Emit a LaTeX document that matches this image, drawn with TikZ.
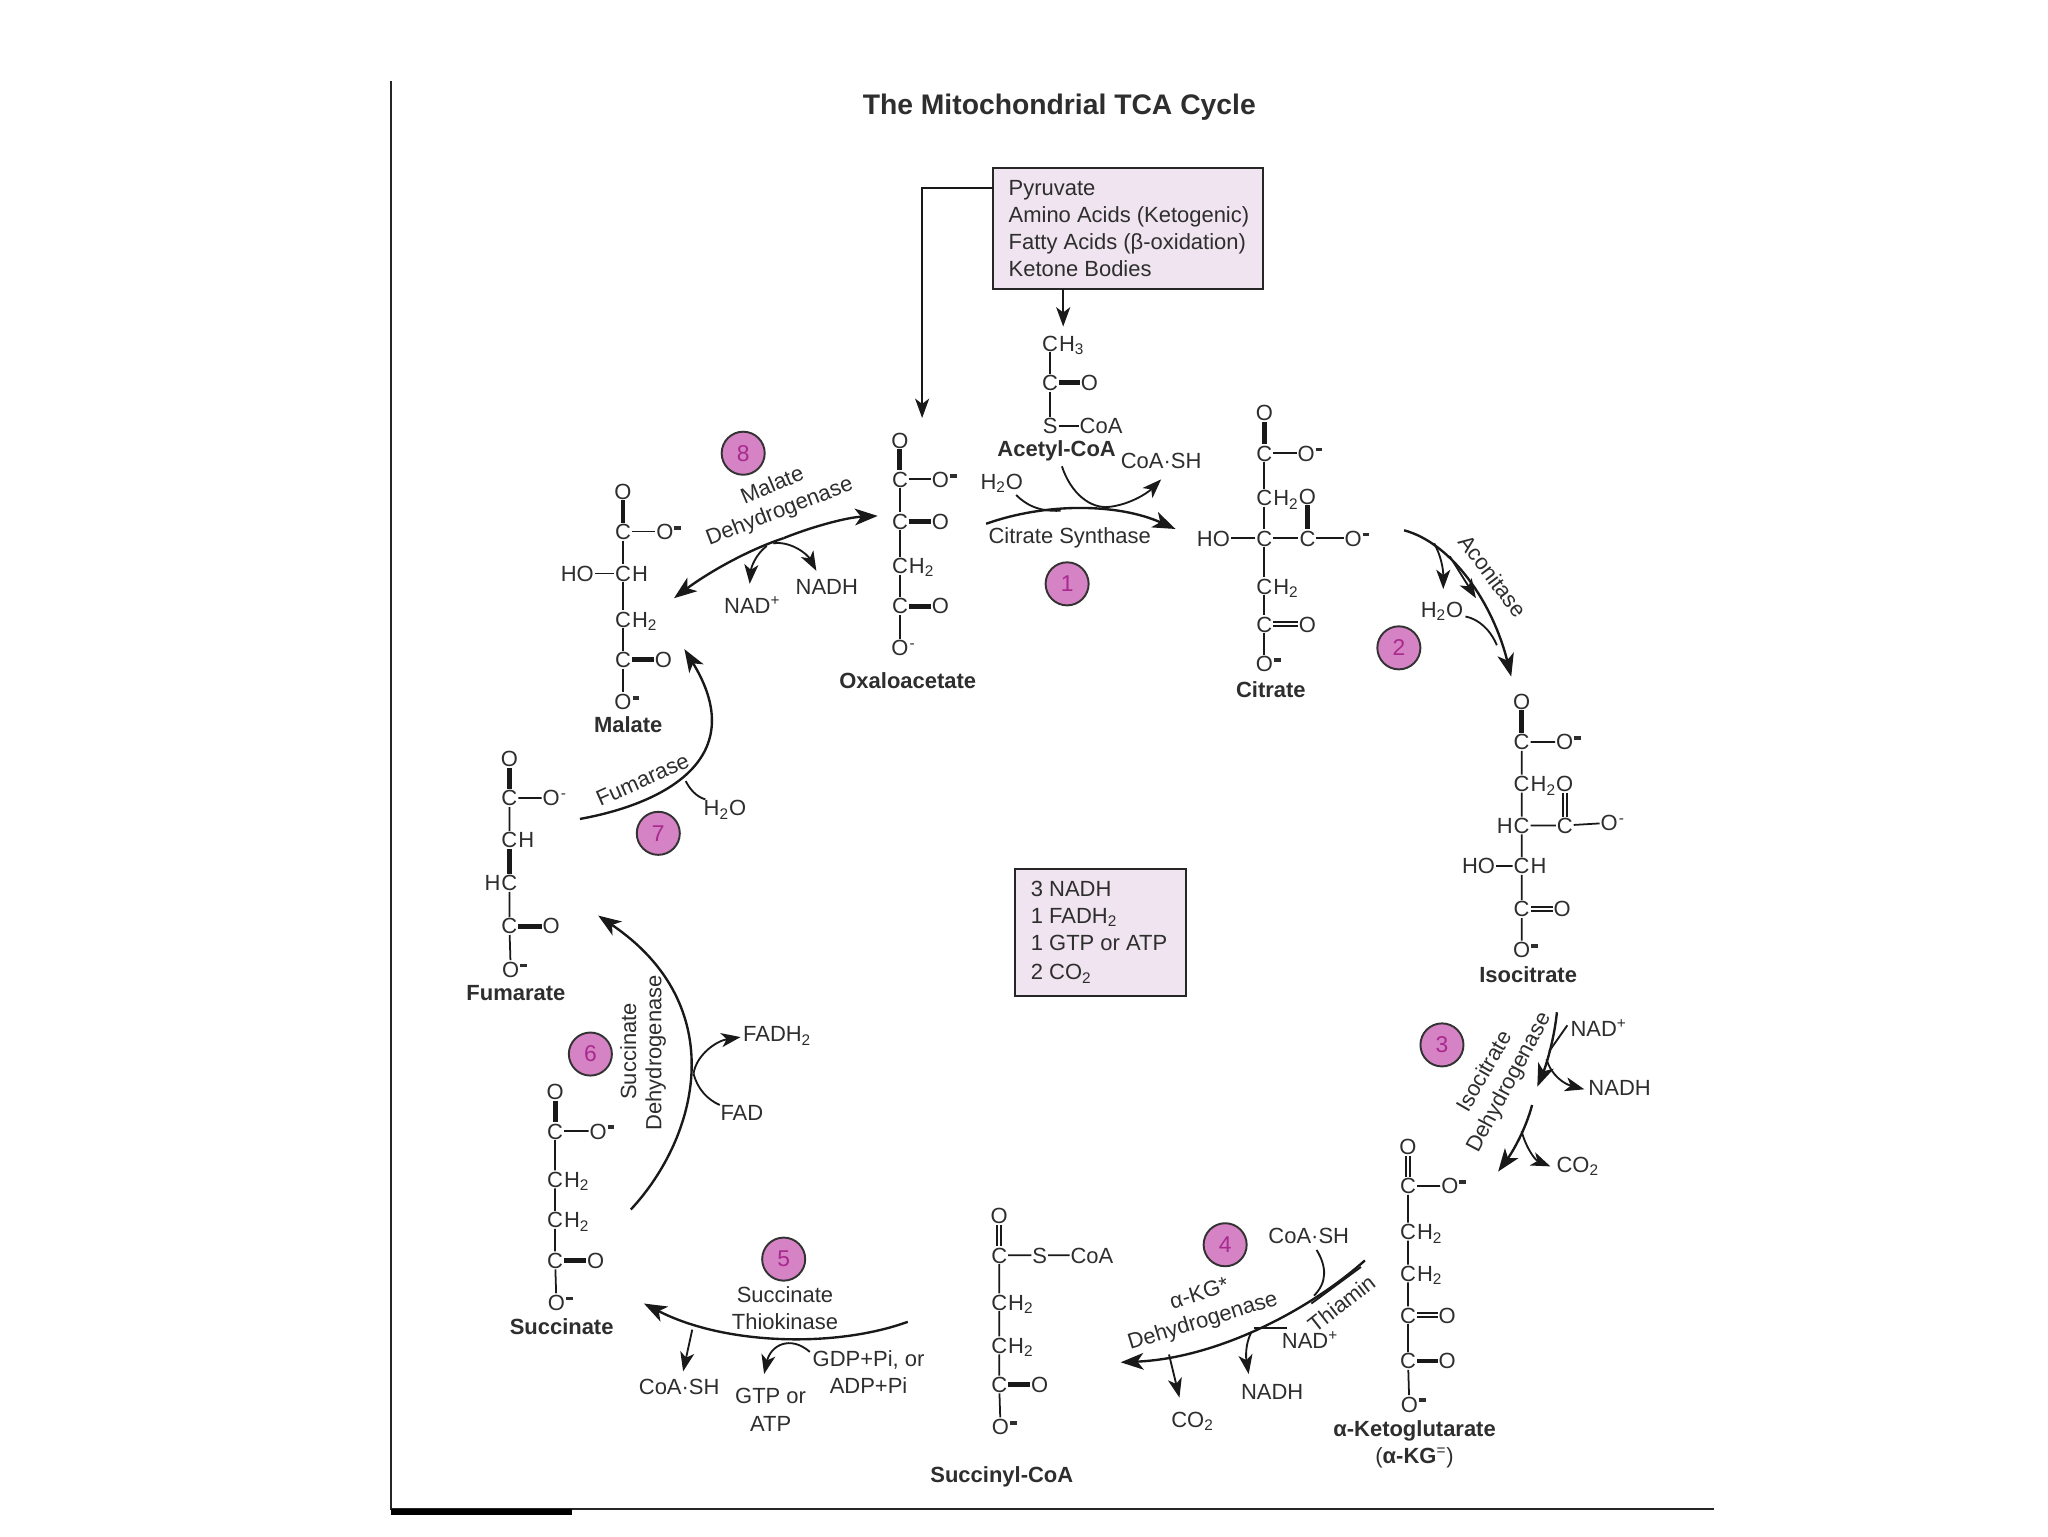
\documentclass[tikz,border=0pt]{standalone}
\usepackage{fontspec}
\setmainfont{Liberation Sans}
\usetikzlibrary{arrows.meta}
\definecolor{inkc}{HTML}{2E2E2E}
\definecolor{boxfill}{HTML}{EFE4EF}
\definecolor{discfill}{HTML}{D583C4}
\definecolor{numc}{HTML}{A82A8E}
\tikzset{
  atom/.style={inner sep=0pt,outer sep=0.6pt,text=inkc,font=\fontsize{12.5}{14}\selectfont,text height=9pt,text depth=0pt},
  atomx/.style={inner sep=0pt,outer sep=0pt,text=inkc,font=\fontsize{12.5}{14}\selectfont},
  bond/.style={draw=black!90,line width=1pt},
  dbond/.style={draw=black!90,line width=2.8pt},
  chemname/.style={inner sep=0pt,text=inkc,font=\fontsize{12.5}{14}\bfseries\selectfont},
  lab/.style={inner sep=0pt,text=inkc,font=\fontsize{12.5}{14}\selectfont},
  mainarc/.style={draw=black!90,line width=1.35pt},
  arcto/.style={mainarc,-{Stealth[length=13pt,width=9.5pt,inset=3.5pt]}},
  twig/.style={draw=black!90,line width=1.05pt},
  twigto/.style={twig,-{Stealth[length=11pt,width=8pt,inset=3pt]}},
  info/.style={draw=black!85,line width=1.1pt,fill=boxfill,inner sep=0pt},
  disc/.style={circle,draw=black!80,line width=1.1pt,fill=discfill,text=numc,inner sep=0pt,minimum size=24.5pt,font=\fontsize{13}{14}\selectfont}
}
\newcommand{\At}[4]{\node[atom] (#1) at (#2,#3) {#4};}
\newcommand{\AtR}[5]{\node[atom] (#1) at (#2,#3) {#4};\node[atomx,anchor=base west] (#1x) at (#1.base east) {#5};}
\newcommand{\AtL}[5]{\node[atom] (#1) at (#2,#3) {#4};\node[atomx,anchor=base east] (#1x) at (#1.base west) {#5};}
\newcommand{\Sb}[1]{\textsubscript{#1}}
\newcommand{\Neg}{\raisebox{5.5pt}{\rule{3.8pt}{2.2pt}}}
\begin{document}
\begin{tikzpicture}[x=0.026122cm,y=-0.026122cm]
\useasboundingbox (0,0) rectangle (1568,1176);
\fill[white] (0,0) rectangle (1568,1176);
% frame
\coordinate (f1) at (299,62); \coordinate (f2) at (299,1155); \coordinate (f3) at (1312,1155);
\coordinate (f4) at (438,1157.5);
\draw[draw=black!85,line width=1.1pt] (f1) -- (f2) -- (f3);
\draw[draw=black,line width=3.5pt] (f2 |- f4) -- (f4);
% title
\node[inner sep=0pt,text=inkc,font=\fontsize{16.1}{18}\bfseries\selectfont] (title) at (811,82) {The Mitochondrial TCA Cycle};
% source box
\node[info,minimum width=154pt,minimum height=68.5pt] (src) at (863.5,175) {};
\node[lab,anchor=base west] (s1) at (772,150) {Pyruvate};
\node[lab,anchor=base west] (s2) at (772,170.5) {Amino Acids (Ketogenic)};
\node[lab,anchor=base west] (s3) at (772,191) {Fatty Acids (β-oxidation)};
\node[lab,anchor=base west] (s4) at (772,212) {Ketone Bodies};
\coordinate (oatop) at (706,320);
\coordinate (srcl) at (760,144);
\coordinate (srcb) at (814,221);
\coordinate (acin) at (814,250);
\draw[twigto] (srcl) -| (oatop);
\draw[twigto] (srcb) -- (acin);
% summary box
\node[info,minimum width=97pt,minimum height=72.5pt] (sum) at (842.5,714) {};
\node[lab,anchor=base west] (m1) at (789,686) {3 NADH};
\node[lab,anchor=base west] (m2) at (789,707) {1 FADH\Sb{2}};
\node[lab,anchor=base west] (m3) at (789,728) {1 GTP or ATP};
\node[lab,anchor=base west] (m4) at (789,750) {2 CO\Sb{2}};
% Acetyl-CoA
\AtR{ac1}{804}{263}{C}{H\Sb{3}}
\At{ac2}{804}{293}{C} \At{ac3}{834}{293}{O}
\At{ac4}{804}{326}{S} \At{ac5}{843}{326}{CoA}
\draw[bond] (ac1)--(ac2) (ac2)--(ac4) (ac4)--(ac5);
\draw[dbond] (ac2)--(ac3);
\node[chemname] (acn) at (809,345.5) {Acetyl-CoA};
% Oxaloacetate
\At{oa1}{689}{337}{O} \At{oa2}{689}{367}{C} \AtR{oa3}{720}{367}{O}{\Neg}
\At{oa4}{689}{399}{C} \At{oa5}{720}{399}{O}
\AtR{oa6}{689}{433}{C}{H\Sb{2}}
\At{oa7}{689}{464}{C} \At{oa8}{720}{464}{O}
\AtR{oa9}{689}{496}{O}{\textsuperscript{-}}
\draw[dbond] (oa1)--(oa2) (oa4)--(oa5) (oa7)--(oa8);
\draw[bond] (oa2)--(oa3) (oa2)--(oa4) (oa4)--(oa6) (oa6)--(oa7) (oa7)--(oa9);
\node[chemname] (oan) at (695,521) {Oxaloacetate};
% Citrate
\At{ci1}{968}{316}{O} \At{ci2}{968}{347}{C} \AtR{ci3}{1000}{347}{O}{\Neg}
\AtR{ci4}{968}{381}{C}{H\Sb{2}} \At{ci5}{1001}{380}{O}
\At{ci6}{968}{412}{C} \At{ci7}{929}{412}{HO} \At{ci8}{1001}{412}{C} \AtR{ci9}{1036}{412}{O}{\Neg}
\AtR{ci10}{968}{449}{C}{H\Sb{2}}
\At{ci11}{968}{478}{C} \At{ci12}{1001}{478}{O}
\AtR{ci13}{968}{508}{O}{\Neg}
\draw[dbond] (ci1)--(ci2) (ci5)--(ci8);
\draw[bond] (ci2)--(ci3) (ci2)--(ci4) (ci4)--(ci6) (ci6)--(ci7) (ci6)--(ci8) (ci8)--(ci9) (ci6)--(ci10) (ci10)--(ci11) (ci11)--(ci13);
\draw[bond,double,double distance=1.3pt] (ci11)--(ci12);
\node[chemname] (cin) at (973,528) {Citrate};
% Isocitrate
\At{ic1}{1165}{537}{O} \At{ic2}{1165}{568}{C} \AtR{ic3}{1198}{568}{O}{\Neg}
\AtR{ic4}{1165}{600}{C}{H\Sb{2}} \At{ic5}{1198}{600}{O}
\AtL{ic6}{1165}{632}{C}{H} \At{ic7}{1198}{632}{C} \AtR{ic8}{1232}{630}{O}{\textsuperscript{-}}
\AtR{ic9}{1165}{663}{C}{H} \At{ic10}{1132}{663}{HO}
\At{ic11}{1165}{696}{C} \At{ic12}{1196}{696}{O}
\AtR{ic13}{1165}{727}{O}{\Neg}
\draw[dbond] (ic1)--(ic2);
\draw[bond] (ic2)--(ic3) (ic2)--(ic4) (ic4)--(ic6) (ic6)--(ic7) (ic7)--(ic8) (ic6)--(ic9) (ic9)--(ic10) (ic9)--(ic11) (ic11)--(ic13);
\draw[bond,double,double distance=1.3pt] (ic5)--(ic7);
\draw[bond,double,double distance=1.3pt] (ic11)--(ic12);
\node[chemname] (icn) at (1170,746) {Isocitrate};
% alpha-ketoglutarate
\At{kg1}{1078}{878}{O} \At{kg2}{1078}{908}{C} \AtR{kg3}{1110}{908}{O}{\Neg}
\AtR{kg4}{1078}{943}{C}{H\Sb{2}} \AtR{kg5}{1078}{975}{C}{H\Sb{2}}
\At{kg6}{1078}{1007}{C} \At{kg7}{1108}{1007}{O}
\At{kg8}{1078}{1042}{C} \At{kg9}{1108}{1042}{O}
\AtR{kg10}{1079}{1075}{O}{\Neg}
\draw[bond,double,double distance=1.3pt] (kg1)--(kg2);
\draw[bond,double,double distance=1.3pt] (kg6)--(kg7);
\draw[dbond] (kg8)--(kg9);
\draw[bond] (kg2)--(kg3) (kg2)--(kg4) (kg4)--(kg5) (kg5)--(kg6) (kg6)--(kg8) (kg8)--(kg10);
\node[chemname] (kgn) at (1083,1095.5) {α-Ketoglutarate};
\node[lab] (kgn2) at (1083,1116) {(\textbf{α-KG}\textsuperscript{=})};
% Succinyl-CoA
\At{sc1}{765}{931}{O} \At{sc2}{765}{961}{C} \At{sc3}{796}{961}{S} \At{sc4}{836}{961}{CoA}
\AtR{sc5}{765}{997}{C}{H\Sb{2}} \AtR{sc6}{765}{1030}{C}{H\Sb{2}}
\At{sc7}{765}{1060}{C} \At{sc8}{796}{1060}{O}
\AtR{sc9}{766}{1092}{O}{\Neg}
\draw[bond,double,double distance=1.3pt] (sc1)--(sc2);
\draw[dbond] (sc7)--(sc8);
\draw[bond] (sc2)--(sc3) (sc3)--(sc4) (sc2)--(sc5) (sc5)--(sc6) (sc6)--(sc7) (sc7)--(sc9);
\node[chemname] (scn) at (767,1131) {Succinyl-CoA};
% Succinate
\At{su1}{425}{836}{O} \At{su2}{425}{866}{C} \AtR{su3}{458}{866}{O}{\Neg}
\AtR{su4}{425}{903}{C}{H\Sb{2}} \AtR{su5}{425}{934}{C}{H\Sb{2}}
\At{su6}{425}{965}{C} \At{su7}{456}{965}{O}
\AtR{su8}{426}{997}{O}{\Neg}
\draw[dbond] (su1)--(su2) (su6)--(su7);
\draw[bond] (su2)--(su3) (su2)--(su4) (su4)--(su5) (su5)--(su6) (su6)--(su8);
\node[chemname] (sun) at (430,1015.5) {Succinate};
% Fumarate
\At{fu1}{390}{581}{O} \At{fu2}{390}{611}{C} \AtR{fu3}{422}{611}{O}{\textsuperscript{-}}
\AtR{fu4}{390}{643}{C}{H} \AtL{fu5}{390}{676}{C}{H}
\At{fu6}{390}{709}{C} \At{fu7}{422}{709}{O}
\AtR{fu8}{391}{742}{O}{\Neg}
\draw[dbond] (fu1)--(fu2) (fu4)--(fu5) (fu6)--(fu7);
\draw[bond] (fu2)--(fu3) (fu2)--(fu4) (fu5)--(fu6) (fu6)--(fu8);
\node[chemname] (fun) at (395,760) {Fumarate};
% Malate
\At{ma1}{477}{376}{O} \At{ma2}{477}{407}{C} \AtR{ma3}{509}{407}{O}{\Neg}
\AtR{ma4}{477}{439}{C}{H} \At{ma5}{442}{439}{HO}
\AtR{ma6}{477}{474}{C}{H\Sb{2}}
\At{ma7}{477}{505}{C} \At{ma8}{508}{505}{O}
\AtR{ma9}{477}{537}{O}{\Neg}
\draw[dbond] (ma1)--(ma2) (ma7)--(ma8);
\draw[bond] (ma2)--(ma3) (ma2)--(ma4) (ma4)--(ma5) (ma4)--(ma6) (ma6)--(ma7) (ma7)--(ma9);
\node[chemname] (man) at (481,555) {Malate};
% numbered discs
\node[disc] (d1) at (817,447) {1};
\node[disc] (d2) at (1071,496) {2};
\node[disc] (d3) at (1104,800) {3};
\node[disc] (d4) at (938,953) {4};
\node[disc] (d5) at (600,964) {5};
\node[disc] (d6) at (452,807) {6};
\node[disc] (d7) at (504,638) {7};
\node[disc] (d8) at (569,347) {8};
% step 1
\coordinate (a1s) at (755,401); \coordinate (a1e) at (900,405);
\draw[arcto] (a1s) .. controls (800,385) and (855,385) .. (a1e);
\node[lab] (e1) at (819,412) {Citrate Synthase};
\node[lab] (w1) at (767,370) {H\Sb{2}O};
\node[lab] (c1) at (889,353) {CoA·SH};
\coordinate (b1a) at (778,379); \coordinate (b1b) at (812,391);
\draw[twig] (b1a) .. controls (785,386) and (795,392) .. (b1b);
\coordinate (b1c) at (813,357); \coordinate (b1d) at (850,388); \coordinate (b1e) at (889,367);
\draw[twig] (b1c) .. controls (820,378) and (835,390) .. (b1d);
\draw[twigto] (b1d) .. controls (865,386) and (878,378) .. (b1e);
% step 2
\coordinate (a2s) at (1075,406); \coordinate (a2e) at (1157,518);
\draw[arcto] (a2s) .. controls (1112,416) and (1143,462) .. (a2e);
\coordinate (a2m) at (1110,426); \coordinate (a2n) at (1130,458);
\draw[twigto] (a2m) -- (a2n);
\node[lab,rotate=-53] (e2) at (1143,441) {Aconitase};
\node[lab] (w2) at (1104,468) {H\Sb{2}O};
\coordinate (b2a) at (1098,416); \coordinate (b2b) at (1105,451);
\draw[twigto] (b2a) .. controls (1103,425) and (1105,435) .. (b2b);
\coordinate (b2c) at (1122,472); \coordinate (b2d) at (1146,494);
\draw[twig] (b2c) .. controls (1132,474) and (1141,482) .. (b2d);
% step 3
\coordinate (a3s) at (1192,775); \coordinate (a3e) at (1177,832);
\draw[arcto] (a3s) .. controls (1190,795) and (1184,815) .. (a3e);
\coordinate (a3f) at (1173,846); \coordinate (a3g) at (1147,897);
\draw[arcto] (a3f) .. controls (1168,865) and (1158,882) .. (a3g);
\node[lab,rotate=60] (e3a) at (1136,820) {Isocitrate};
\node[lab,rotate=62] (e3b) at (1156,829) {Dehydrogenase};
\node[lab] (n3a) at (1224,787) {NAD\textsuperscript{+}};
\node[lab] (n3b) at (1240,833) {NADH};
\node[lab] (n3c) at (1208,893) {CO\Sb{2}};
\coordinate (b3a) at (1200,785); \coordinate (b3b) at (1186,805);
\draw[twig] (b3a) -- (b3b);
\coordinate (b3c) at (1184,811); \coordinate (b3d) at (1213,834);
\draw[twigto] (b3c) .. controls (1188,824) and (1198,830) .. (b3d);
\coordinate (b3e) at (1165,866); \coordinate (b3f) at (1187,893);
\draw[twigto] (b3e) .. controls (1168,878) and (1175,888) .. (b3f);
% step 4
\coordinate (a4s) at (1045,965); \coordinate (a4e) at (858,1043);
\draw[arcto] (a4s) .. controls (1000,1005) and (930,1040) .. (a4e);
\coordinate (a4p) at (1042,970); \coordinate (a4q) at (1004,998);
\draw[twig] (a4p) -- (a4q);
\node[lab,rotate=38] (e4t) at (1027,998) {Thiamin};
\node[lab,rotate=17] (e4a) at (918,990) {α-KG*};
\node[lab,rotate=17] (e4b) at (921,1012) {Dehydrogenase};
\node[lab] (n4c) at (1002,946) {CoA·SH};
\node[lab] (n4a) at (1003,1026) {NAD\textsuperscript{+}};
\node[lab] (n4b) at (974,1066) {NADH};
\node[lab] (n4d) at (913,1088) {CO\Sb{2}};
\coordinate (b4a) at (1008,957); \coordinate (b4b) at (1006,992);
\draw[twig] (b4a) .. controls (1016,970) and (1016,982) .. (b4b);
\coordinate (b4c) at (985,1017); \coordinate (b4d) at (960,1017);
\draw[twig] (b4c) -- (b4d);
\coordinate (b4e) at (958,1020); \coordinate (b4f) at (956,1052);
\draw[twigto] (b4e) .. controls (953,1030) and (954,1040) .. (b4f);
\coordinate (b4g) at (895,1037); \coordinate (b4h) at (903,1070);
\draw[twigto] (b4g) -- (b4h);
% step 5
\coordinate (a5s) at (695,1012); \coordinate (a5e) at (493,998);
\draw[arcto] (a5s) .. controls (640,1032) and (555,1030) .. (a5e);
\node[lab] (e5a) at (601,991) {Succinate};
\node[lab] (e5b) at (601,1012) {Thiokinase};
\node[lab] (n5a) at (520,1062) {CoA·SH};
\node[lab] (n5b) at (590,1069) {GTP or};
\node[lab] (n5c) at (590,1090) {ATP};
\node[lab] (n5d) at (665,1041) {GDP+Pi, or};
\node[lab] (n5e) at (665,1061) {ADP+Pi};
\coordinate (b5a) at (530,1018); \coordinate (b5b) at (523,1050);
\draw[twigto] (b5a) -- (b5b);
\coordinate (b5c) at (620,1035); \coordinate (b5d) at (585,1052);
\draw[twigto] (b5c) .. controls (605,1022) and (590,1030) .. (b5d);
% step 6
\coordinate (a6s) at (483,926); \coordinate (a6e) at (458,701);
\draw[arcto] (a6s) .. controls (535,870) and (560,770) .. (a6e);
\node[lab,rotate=90] (e6a) at (481,805) {Succinate};
\node[lab,rotate=90] (e6b) at (502,806) {Dehydrogenase};
\node[lab] (n6a) at (595,793) {FADH\Sb{2}};
\node[lab] (n6b) at (568,852) {FAD};
\coordinate (b6a) at (551,846); \coordinate (b6b) at (531,822); \coordinate (b6c) at (567,794);
\draw[twig] (b6a) .. controls (542,842) and (534,834) .. (b6b);
\draw[twigto] (b6b) .. controls (533,808) and (548,797) .. (b6c);
% step 7
\coordinate (a7s) at (444,627); \coordinate (a7e) at (524,497);
\draw[arcto] (a7s) .. controls (510,615) and (575,580) .. (a7e);
\node[lab,rotate=24] (e7) at (492,597) {Fumarase};
\node[lab] (n7) at (555,620) {H\Sb{2}O};
\coordinate (b7a) at (540,612); \coordinate (b7b) at (525,598);
\draw[twig] (b7a) .. controls (533,610) and (528,604) .. (b7b);
% step 8
\coordinate (a8m) at (600,412); \coordinate (a8s) at (516,458); \coordinate (a8e) at (672,395);
\draw[arcto] (a8m) .. controls (570,422) and (540,440) .. (a8s);
\draw[arcto] (a8m) .. controls (625,402) and (650,396) .. (a8e);
\node[lab,rotate=23] (e8a) at (591,371) {Malate};
\node[lab,rotate=21] (e8b) at (597,392) {Dehydrogenase};
\node[lab] (n8a) at (576,463) {NAD\textsuperscript{+}};
\node[lab] (n8b) at (633,449) {NADH};
\coordinate (b8a) at (587,418); \coordinate (b8b) at (574,447);
\draw[twigto] (b8a) .. controls (578,425) and (575,435) .. (b8b);
\coordinate (b8c) at (592,416); \coordinate (b8d) at (625,437);
\draw[twigto] (b8c) .. controls (605,414) and (618,424) .. (b8d);
\end{tikzpicture}
\end{document}
